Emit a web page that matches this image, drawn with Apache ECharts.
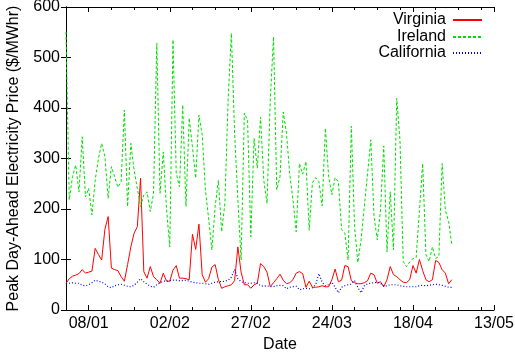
<!DOCTYPE html>
<html>
<head>
<meta charset="utf-8">
<script src="https://cdn.jsdelivr.net/npm/echarts@6/dist/echarts.min.js"></script>
<style>html,body{margin:0;padding:0;background:#fff;}#c{width:515px;height:355px;}</style>
</head>
<body>
<div id="c"></div>
<script>
// Days counted from 01/01 (day 0)
const xTickDays = [7, 32, 57, 82, 107, 132];
const xTickLabels = ['08/01', '02/02', '27/02', '24/03', '18/04', '13/05'];
const xMinorDays = [14, 21, 28, 39, 46, 53, 64, 71, 78, 89, 96, 103, 114, 121, 128];

const virginia = [
  53, 62, 67, 69, 72, 80, 73, 75, 77, 122,
  110, 99, 160, 185, 83, 80, 78, 66, 57, 90,
  125, 152, 165, 261, 76, 63, 86, 66, 60, 53,
  73, 57, 57, 79, 88, 63, 63, 62, 60, 150,
  120, 170, 70, 55, 62, 85, 90, 60, 43, 46,
  48, 50, 58, 125, 75, 50, 50, 43, 50, 53,
  92, 86, 75, 46, 54, 62, 71, 59, 52, 54,
  60, 73, 76, 72, 45, 57, 45, 45, 46, 48,
  46, 46, 60, 81, 56, 59, 88, 86, 58, 54,
  52, 52, 54, 58, 73, 70, 53, 56, 46, 60,
  86, 70, 66, 60, 55, 54, 60, 88, 73, 100,
  78, 60, 56, 60, 98, 94, 80, 73, 52, 60
];
const ireland = [
  551, 218, 264, 287, 234, 343, 224, 241, 188, 257,
  300, 330, 304, 221, 284, 264, 243, 254, 396, 205,
  330, 277, 240, 205, 228, 234, 195, 231, 528, 231,
  313, 200, 125, 535, 271, 244, 406, 205, 380, 323,
  261, 386, 347, 238, 180, 119, 205, 257, 155, 211,
  416, 548, 350, 220, 99, 390, 376, 145, 340, 281,
  382, 257, 211, 416, 541, 238, 264, 392, 350, 270,
  218, 155, 290, 269, 294, 158, 252, 262, 254, 206,
  360, 264, 228, 262, 254, 160, 152, 99, 364, 165,
  94, 139, 205, 270, 337, 185, 139, 198, 325, 115,
  234, 119, 419, 337, 96, 86, 95, 102, 104, 197,
  290, 110, 96, 125, 102, 106, 290, 198, 175, 129
];
const california = [
  53, 53, 54, 53, 53, 49, 48, 50, 54, 59,
  57, 55, 52, 46, 44, 48, 50, 51, 49, 47,
  46, 49, 55, 62, 56, 51, 47, 45, 50, 54,
  57, 57, 58, 59, 59, 58, 58, 59, 57, 55,
  54, 53, 53, 52, 51, 53, 55, 56, 56, 57,
  59, 65, 80, 62, 56, 54, 53, 53, 54, 53,
  48, 47, 48, 46, 46, 48, 49, 48, 42, 45,
  46, 47, 40, 42, 43, 42, 44, 50, 72, 55,
  48, 50, 55, 45, 34, 45, 48, 50, 51, 58,
  45, 34, 48, 52, 53, 54, 55, 53, 47, 48,
  50, 50, 50, 48, 47, 46, 46, 46, 46, 48,
  49, 48, 49, 50, 51, 50, 49, 47, 45, 45
];

const FONT = '"Liberation Sans", Arial, sans-serif';
const chart = echarts.init(document.getElementById('c'), null, {renderer: 'canvas'});

function xAxisDef(pos, ticks, len, showLine, showLabel) {
  return {
    type: 'value', position: pos, min: 0, max: 132,
    axisLine: {show: showLine, onZero: false, lineStyle: {color: '#000', width: 1}},
    axisTick: {show: true, inside: true, length: len, customValues: ticks, lineStyle: {color: '#000', width: 1}},
    axisLabel: showLabel ? {
      show: true, customValues: xTickDays, margin: 6, color: '#000', fontSize: 16, fontFamily: FONT,
      formatter: v => xTickLabels[xTickDays.indexOf(v)]
    } : {show: false},
    splitLine: {show: false}
  };
}
function yAxisDef(pos, showLabel) {
  return {
    type: 'value', position: pos, min: 0, max: 600, interval: 100,
    axisLine: {show: true, lineStyle: {color: '#000', width: 1}},
    axisTick: {show: true, inside: true, length: 5, lineStyle: {color: '#000', width: 1}},
    axisLabel: showLabel ? {show: true, margin: 6, color: '#000', fontSize: 16, fontFamily: FONT} : {show: false},
    splitLine: {show: false}
  };
}

const xBottom = xAxisDef('bottom', xTickDays, 5, true, true);
xBottom.name = 'Date';
xBottom.nameLocation = 'middle';
xBottom.nameGap = 27;
xBottom.nameTextStyle = {color: '#000', fontSize: 16, fontFamily: FONT};

const yLeft = yAxisDef('left', true);
yLeft.name = 'Peak Day-Ahead Electricity Price ($/MWhr)';
yLeft.nameLocation = 'middle';
yLeft.nameGap = 44;
yLeft.nameTextStyle = {color: '#000', fontSize: 16, fontFamily: FONT};

function legendDef(name, top) {
  return {
    data: [name], orient: 'vertical', right: 32, top: top, padding: 0,
    align: 'right', itemWidth: 29, itemHeight: 14, itemGap: 0,
    itemStyle: {opacity: 0},
    textStyle: {color: '#000', fontSize: 16, fontFamily: FONT, padding: [0, 2, 0, 0]},
    selectedMode: false
  };
}

chart.setOption({
  animation: false,
  backgroundColor: '#fff',
  grid: {left: 66, right: 21, top: 7, bottom: 45, containLabel: false, outerBoundsMode: 'none'},
  legend: [legendDef('Virginia', 12), legendDef('Ireland', 29), legendDef('California', 45)],
  xAxis: [
    xBottom,
    xAxisDef('bottom', xMinorDays, 3, false, false),
    xAxisDef('top', xTickDays, 5, true, false),
    xAxisDef('top', xMinorDays, 3, false, false)
  ],
  yAxis: [yLeft, yAxisDef('right', false)],
  series: [
    {name: 'Virginia', type: 'line', xAxisIndex: 0, yAxisIndex: 0, symbol: 'none',
     lineStyle: {color: '#ff0000', width: 1}, itemStyle: {color: '#ff0000'},
     data: virginia.map((v, i) => [i, v])},
    {name: 'Ireland', type: 'line', xAxisIndex: 0, yAxisIndex: 0, symbol: 'none',
     lineStyle: {color: '#00e000', width: 1, type: [3, 2]}, itemStyle: {color: '#00e000'},
     data: ireland.map((v, i) => [i, v])},
    {name: 'California', type: 'line', xAxisIndex: 0, yAxisIndex: 0, symbol: 'none',
     lineStyle: {color: '#0000ff', width: 1.2, type: [1, 2]}, itemStyle: {color: '#0000ff'},
     data: california.map((v, i) => [i, v])}
  ]
});
</script>
</body>
</html>
